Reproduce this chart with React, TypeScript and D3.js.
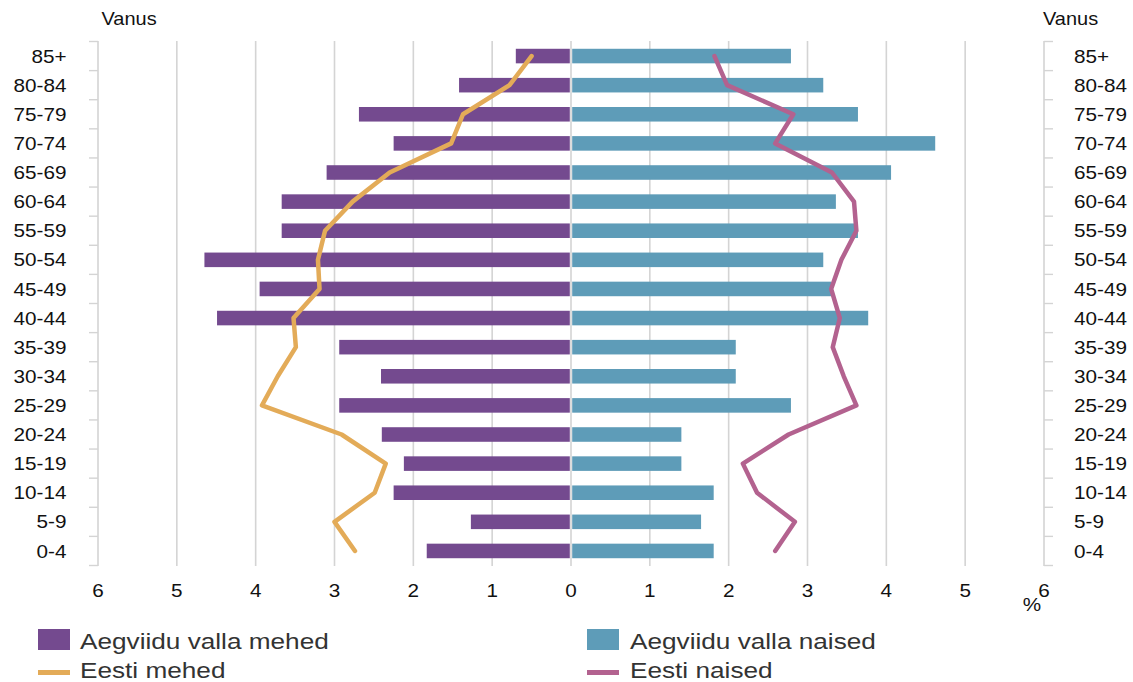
import React from 'react';
import * as d3 from 'd3';

const ageGroups = ['85+', '80-84', '75-79', '70-74', '65-69', '60-64', '55-59', '50-54', '45-49', '40-44', '35-39', '30-34', '25-29', '20-24', '15-19', '10-14', '5-9', '0-4'];
const aegviiduMen = [0.70, 1.42, 2.69, 2.25, 3.10, 3.67, 3.67, 4.65, 3.95, 4.49, 2.94, 2.41, 2.94, 2.40, 2.12, 2.25, 1.27, 1.83];
const aegviiduWomen = [2.79, 3.20, 3.64, 4.62, 4.06, 3.36, 3.64, 3.20, 3.30, 3.77, 2.09, 2.09, 2.79, 1.40, 1.40, 1.81, 1.65, 1.81];
const eestiMen = [0.50, 0.78, 1.37, 1.52, 2.30, 2.77, 3.12, 3.21, 3.19, 3.52, 3.49, 3.72, 3.92, 2.91, 2.35, 2.49, 3.00, 2.74];
const eestiWomen = [1.82, 1.98, 2.82, 2.59, 3.31, 3.59, 3.62, 3.43, 3.30, 3.41, 3.32, 3.46, 3.62, 2.76, 2.18, 2.36, 2.84, 2.59];
const xTickValues = [-6, -5, -4, -3, -2, -1, 0, 1, 2, 3, 4, 5, 6];
const legendItems = ['Aegviidu valla mehed', 'Eesti mehed', 'Aegviidu valla naised', 'Eesti naised'];

const PURPLE = '#744a8f';
const BLUE = '#5e9cb8';
const ORANGE = '#e3ab58';
const PINK = '#b3628f';
const GRID = '#d4d4d4';
const FONT = '"Liberation Sans", Arial, Helvetica, sans-serif';

const W = 1133;
const H = 682;

function T({ x, y, size, anchor = 'start', sx = 1.15, fill = '#111', children }: any) {
  return (
    <text
      transform={`translate(${x},${y}) scale(${sx},1)`}
      fontSize={size}
      fontFamily={FONT}
      textAnchor={anchor}
      fill={fill}
    >
      {children}
    </text>
  );
}

export default function App() {
  const x = d3.scaleLinear().domain([-6, 6]).range([98, 1044]);
  const y = d3.scaleBand<string>().domain(ageGroups).range([41.5, 565.5]).padding(0);
  const bw = y.bandwidth();
  const barH = bw * 0.5;
  const cy = (a: string) => (y(a) as number) + bw / 2;

  const menLine = d3
    .line<number>()
    .x((d) => x(-d))
    .y((_, i) => cy(ageGroups[i]));
  const womenLine = d3
    .line<number>()
    .x((d) => x(d))
    .y((_, i) => cy(ageGroups[i]));

  const boundaries = ageGroups.map((a) => y(a) as number).concat([y.range()[1]]);
  const top = 41;
  const bottom = 566;

  return (
    <svg
      width={W}
      height={H}
      style={{ position: 'absolute', left: 0, top: 0, background: '#fff' }}
    >
      {xTickValues
        .filter((v) => Math.abs(v) !== 6)
        .map((v) => (
          <line key={'g' + v} x1={x(v)} x2={x(v)} y1={top} y2={bottom} stroke={GRID} strokeWidth={1.6} />
        ))}
      {[-6, 6].map((v) => (
        <g key={'ax' + v}>
          <line x1={x(v)} x2={x(v)} y1={top} y2={bottom} stroke={GRID} strokeWidth={1.6} />
          {boundaries.map((b, i) => (
            <line
              key={i}
              x1={x(v)}
              x2={x(v) + (v < 0 ? -9 : 9)}
              y1={b}
              y2={b}
              stroke={GRID}
              strokeWidth={1.4}
            />
          ))}
        </g>
      ))}
      {ageGroups.map((a, i) => (
        <g key={'b' + a}>
          <rect
            x={x(-aegviiduMen[i])}
            y={cy(a) - barH / 2}
            width={x(0) - x(-aegviiduMen[i]) - 1.2}
            height={barH}
            fill={PURPLE}
          />
          <rect
            x={x(0) + 1.2}
            y={cy(a) - barH / 2}
            width={x(aegviiduWomen[i]) - x(0) - 1.2}
            height={barH}
            fill={BLUE}
          />
        </g>
      ))}
      <path d={menLine(eestiMen) as string} fill="none" stroke={ORANGE} strokeWidth={4.5} strokeLinejoin="round" strokeLinecap="round" />
      <path d={womenLine(eestiWomen) as string} fill="none" stroke={PINK} strokeWidth={4.5} strokeLinejoin="round" strokeLinecap="round" />

      {ageGroups.map((a) => (
        <g key={'l' + a}>
          <T x={66.5} y={cy(a) + 6.6} size={18} anchor="end">{a}</T>
          <T x={1074} y={cy(a) + 6.6} size={18} anchor="start">{a}</T>
        </g>
      ))}
      <T x={101.5} y={25} size={18} sx={1.11}>Vanus</T>
      <T x={1043} y={25} size={18} sx={1.11}>Vanus</T>

      {xTickValues.map((v) => (
        <T key={'t' + v} x={x(v)} y={597} size={18} anchor="middle">{Math.abs(v)}</T>
      ))}
      <T x={1032} y={611} size={18} anchor="middle">%</T>

      <rect x={38} y={629} width={32} height={21} fill={PURPLE} />
      <T x={80} y={649} size={22} sx={1.19} fill="#333">{legendItems[0]}</T>
      <line x1={38} x2={70} y1={672.5} y2={672.5} stroke={ORANGE} strokeWidth={5} />
      <T x={80} y={678} size={22} sx={1.19} fill="#333">{legendItems[1]}</T>
      <rect x={587} y={629} width={32} height={21} fill={BLUE} />
      <T x={630} y={649} size={22} sx={1.19} fill="#333">{legendItems[2]}</T>
      <line x1={587} x2={619} y1={672.5} y2={672.5} stroke={PINK} strokeWidth={5} />
      <T x={630} y={678} size={22} sx={1.19} fill="#333">{legendItems[3]}</T>
    </svg>
  );
}
